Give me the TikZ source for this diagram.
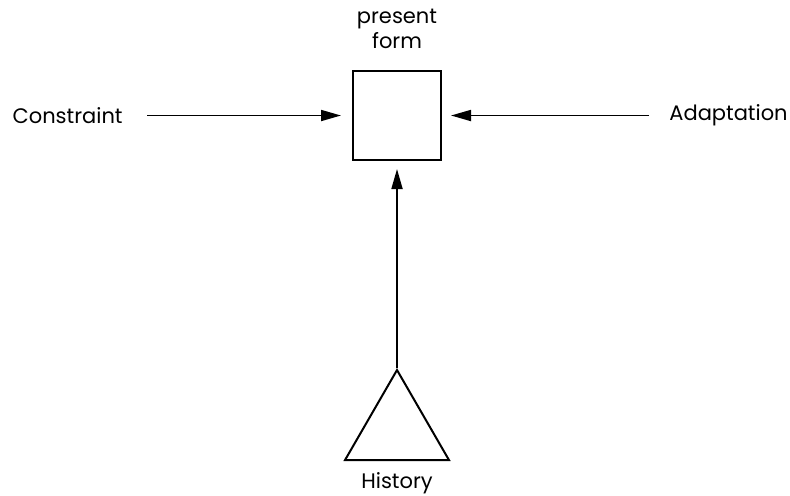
\documentclass[tikz,border=0pt]{standalone}
\usepackage{fontspec}
\setmainfont{Poppins}
\usepackage{tikz}
\usetikzlibrary{positioning,shapes.geometric,arrows.meta}
\tikzset{
    form-box/.style = {draw, line width=1pt, rectangle, minimum width=44pt, minimum height=44.5pt, inner sep=0pt},
    history-cone/.style = {draw, line width=1pt, regular polygon, regular polygon sides=3, minimum size=60pt, inner sep=0pt},
    caption-text/.style = {font=\fontsize{10.5}{12.5}\selectfont, inner sep=0pt, align=center},
    force-arrow/.style = {line width=0.9pt, -{Triangle[length=10pt,width=5.5pt]}},
}

\begin{document}
\begin{tikzpicture}
\useasboundingbox (0,0) rectangle (395pt,-247.5pt);
\node [form-box] (box) at (198.5pt,-57.75pt) {};
\node [caption-text, above=10.5pt of box] (present) {present\\form};
\node [caption-text, left=114.5pt of box] (constraint) {Constraint};
\node [caption-text, right=113.5pt of box] (adaptation) {Adaptation};
\node [history-cone, below=103.5pt of box] (history) {};
\node [caption-text, below=5.5pt of history] (history-label) {History};
\draw [force-arrow, shorten <=12pt, shorten >=5.5pt] (constraint) -- (box);
\draw [force-arrow, shorten <=10pt, shorten >=4.5pt] (adaptation) -- (box);
\draw [force-arrow, shorten >=4pt] (history.north) -- (box.south);
\end{tikzpicture}
\end{document}
